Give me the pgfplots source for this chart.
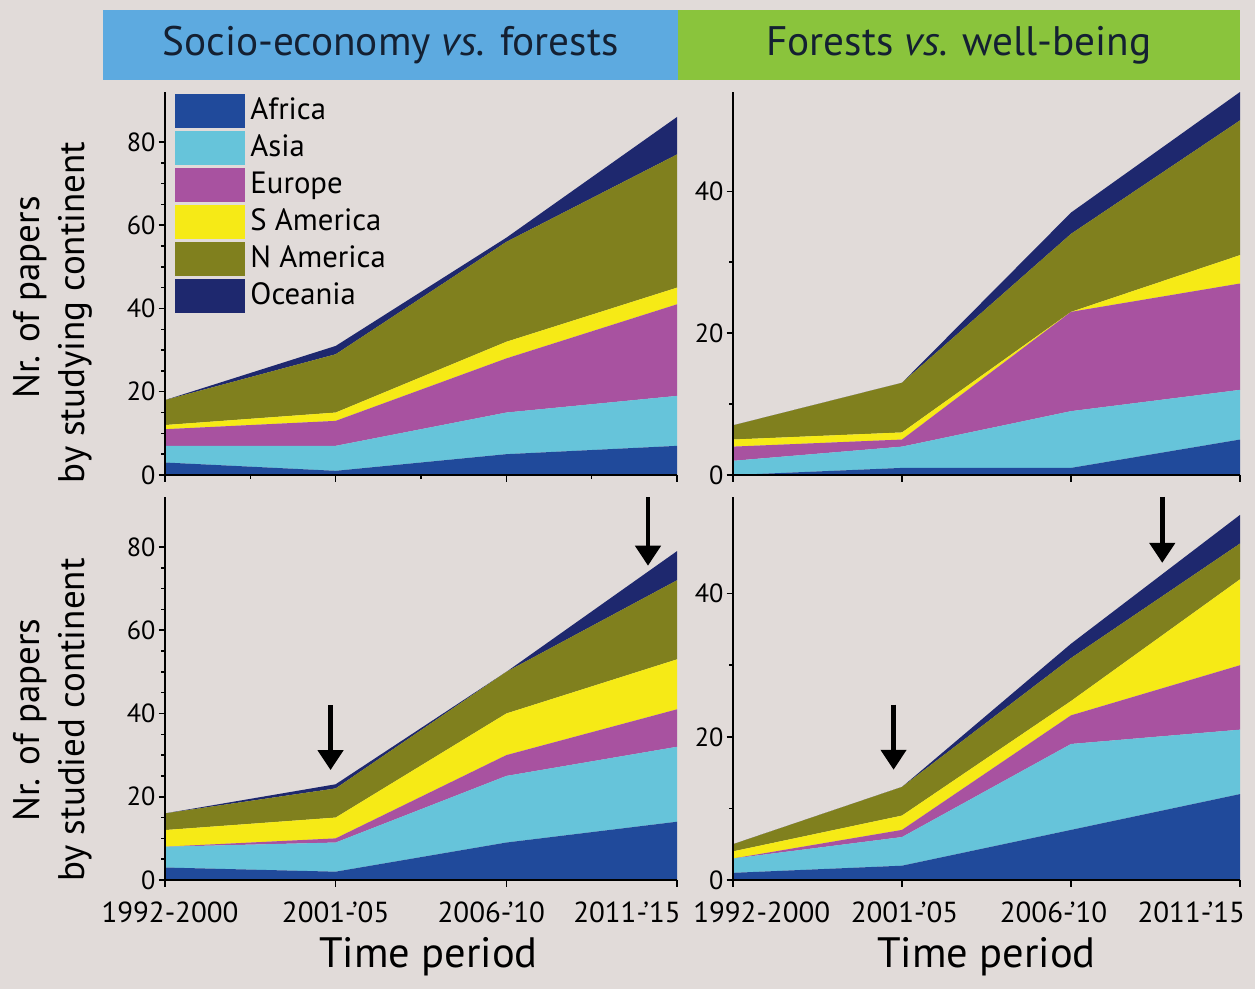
\documentclass[border=0pt]{standalone}
\usepackage{fontspec}
\setmainfont{PT Sans}
\usepackage{pgfplots}
\usepackage{pgfplotstable}
\pgfplotsset{compat=1.18}
\usetikzlibrary{arrows.meta}

\definecolor{bgc}{RGB}{225,219,217}
\definecolor{afr}{RGB}{32,74,155}
\definecolor{asi}{RGB}{102,196,218}
\definecolor{eur}{RGB}{168,82,160}
\definecolor{sam}{RGB}{246,234,22}
\definecolor{nam}{RGB}{128,128,30}
\definecolor{oce}{RGB}{30,40,110}
\definecolor{hblue}{RGB}{93,170,224}
\definecolor{hgreen}{RGB}{138,196,60}
\definecolor{htext}{RGB}{20,32,50}

% papers per continent (not cumulative), periods 0..3
% socio-economy vs. forests, by studying continent
\pgfplotstableread{
x af as eu sa na oc
0 3 4 4 1 6 0
1 1 6 6 2 14 2
2 5 10 13 4 24 1
3 7 12 22 4 32 9
}\seStudying
% forests vs. well-being, by studying continent
\pgfplotstableread{
x af as eu sa na oc
0 0 2 2 1 2 0
1 1 3 1 1 7 0
2 1 8 14 0 11 3
3 5 7 15 4 19 4
}\wbStudying
% socio-economy vs. forests, by studied continent
\pgfplotstableread{
x af as eu sa na oc
0 3 5 0 4 4 0
1 2 7 1 5 7 1
2 9 16 5 10 10 0
3 14 18 9 12 19 7
}\seStudied
% forests vs. well-being, by studied continent
\pgfplotstableread{
x af as eu sa na oc
0 1 2 0 1 1 0
1 2 4 1 2 4 0
2 7 12 4 2 6 2
3 12 9 9 12 5 4
}\wbStudied

% shift a tick label right (\lsh) or left (\rsh) by half the kern
\newcommand{\lsh}[2]{\kern#1#2}
\newcommand{\rsh}[2]{#2\kern#1}

\pgfplotsset{
  panel/.style={
    scale only axis, height=153.2pt,
    anchor=south west,
    axis lines=left, axis line style={-, line width=0.6pt},
    axis on top,
    stack plots=y,
    xmin=0, xmax=3, ymin=0,
    enlargelimits=false,
    xtick={0,1,2,3},
    tick align=outside,
    major tick length=2.6pt, minor tick length=1.6pt,
    every tick/.style={black, line width=0.6pt},
    yticklabel style={font=\fontsize{10.5}{10.5}\selectfont, inner sep=1pt},
    xticklabel style={font=\fontsize{11.6}{11.6}\selectfont, inner sep=2pt, yshift=-4pt},
    /pgf/number format/assume math mode=true,
    clip=false,
  },
  stackfill/.style={fill=#1, draw=none},
}

\newcommand{\stackall}[1]{%
  \addplot[stackfill=afr] table[x=x,y=af]{#1} \closedcycle;
  \addplot[stackfill=asi] table[x=x,y=as]{#1} \closedcycle;
  \addplot[stackfill=eur] table[x=x,y=eu]{#1} \closedcycle;
  \addplot[stackfill=sam] table[x=x,y=sa]{#1} \closedcycle;
  \addplot[stackfill=nam] table[x=x,y=na]{#1} \closedcycle;
  \addplot[stackfill=oce] table[x=x,y=oc]{#1} \closedcycle;
}

\begin{document}
\begin{tikzpicture}
\fill[bgc] (0pt,0pt) rectangle (502pt,-395.6pt);

% headers
\fill[hblue] (41.2pt,-4pt) rectangle (271.2pt,-32pt);
\fill[hgreen] (271.2pt,-4pt) rectangle (496pt,-32pt);
\node[text=htext, font=\fontsize{16.5}{16.5}\selectfont] at (156.2pt,-18pt) {Socio-economy \textit{vs.} forests};
\node[text=htext, font=\fontsize{16.5}{16.5}\selectfont] at (383.6pt,-18pt) {Forests \textit{vs.} well-being};

% y labels
\node[rotate=90, font=\fontsize{14.8}{14.8}\selectfont] at (12pt,-119pt) {Nr. of papers};
\node[rotate=90, font=\fontsize{14.8}{14.8}\selectfont] at (30pt,-125pt) {by studying continent};
\node[rotate=90, font=\fontsize{14.8}{14.8}\selectfont] at (12pt,-288pt) {Nr. of papers};
\node[rotate=90, font=\fontsize{14.8}{14.8}\selectfont] at (30pt,-288pt) {by studied continent};

% top left
\begin{axis}[panel, at={(66pt,-190pt)}, width=204.8pt,
  ymax=92, ytick={0,20,40,60,80}, minor y tick num=3, minor x tick num=1,
  xticklabels={},
  legend style={at={(0.0195,0.997)}, anchor=north west, draw=none, fill=none,
    inner sep=0pt, row sep=1.2pt, font=\fontsize{12.3}{12.3}\selectfont,
    nodes={inner ysep=0.4pt, inner xsep=2pt}},
  legend cell align=left,
  legend image code/.code={\fill[#1] (0pt,-6.8pt) rectangle (28pt,6.8pt);},
]
\stackall{\seStudying}
\legend{Africa, Asia, Europe, S America, N America, Oceania}
\end{axis}

% top right
\begin{axis}[panel, at={(293.2pt,-190pt)}, width=202.8pt,
  ymax=54, ytick={0,20,40}, minor y tick num=1,
  xticklabels={},
]
\stackall{\wbStudying}
\end{axis}

% bottom left
\begin{axis}[panel, at={(66pt,-352pt)}, width=204.8pt,
  ymax=92, ytick={0,20,40,60,80}, minor y tick num=3,
  xticklabels={\lsh{4pt}{1992-2000},2001-'05,\rsh{12pt}{2006-'10},\rsh{40pt}{2011-'15}},
  xlabel={Time period},
  xlabel style={font=\fontsize{17}{17}\selectfont, inner sep=0pt, yshift=-3.5pt, xshift=3pt},
]
\stackall{\seStudied}
\draw[-{Triangle[length=8pt,width=10pt]}, line width=1.8pt] (axis cs:0.97,42) -- (axis cs:0.97,26.4);
\draw[-{Triangle[length=8pt,width=10pt]}, line width=1.8pt] (axis cs:2.83,92) -- (axis cs:2.83,75.5);
\end{axis}

% bottom right
\begin{axis}[panel, at={(293.2pt,-352pt)}, width=202.8pt,
  ymax=53.5, ytick={0,20,40}, minor y tick num=1,
  xticklabels={\lsh{23pt}{1992-2000},\lsh{2pt}{2001-'05},\rsh{14pt}{2006-'10},\rsh{39pt}{2011-'15}},
  xlabel={Time period},
  xlabel style={font=\fontsize{17}{17}\selectfont, inner sep=0pt, yshift=-3.5pt},
]
\stackall{\wbStudied}
\draw[-{Triangle[length=8pt,width=10pt]}, line width=1.8pt] (axis cs:0.95,24.5) -- (axis cs:0.95,15.4);
\draw[-{Triangle[length=8pt,width=10pt]}, line width=1.8pt] (axis cs:2.54,53.5) -- (axis cs:2.54,44.3);
\node[font=\fontsize{14}{14}\selectfont] at (axis cs:2.05,15.5) {*};
\end{axis}

\pgfresetboundingbox
\path[use as bounding box] (0pt,0pt) rectangle (502pt,-395.6pt);
\end{tikzpicture}
\end{document}
